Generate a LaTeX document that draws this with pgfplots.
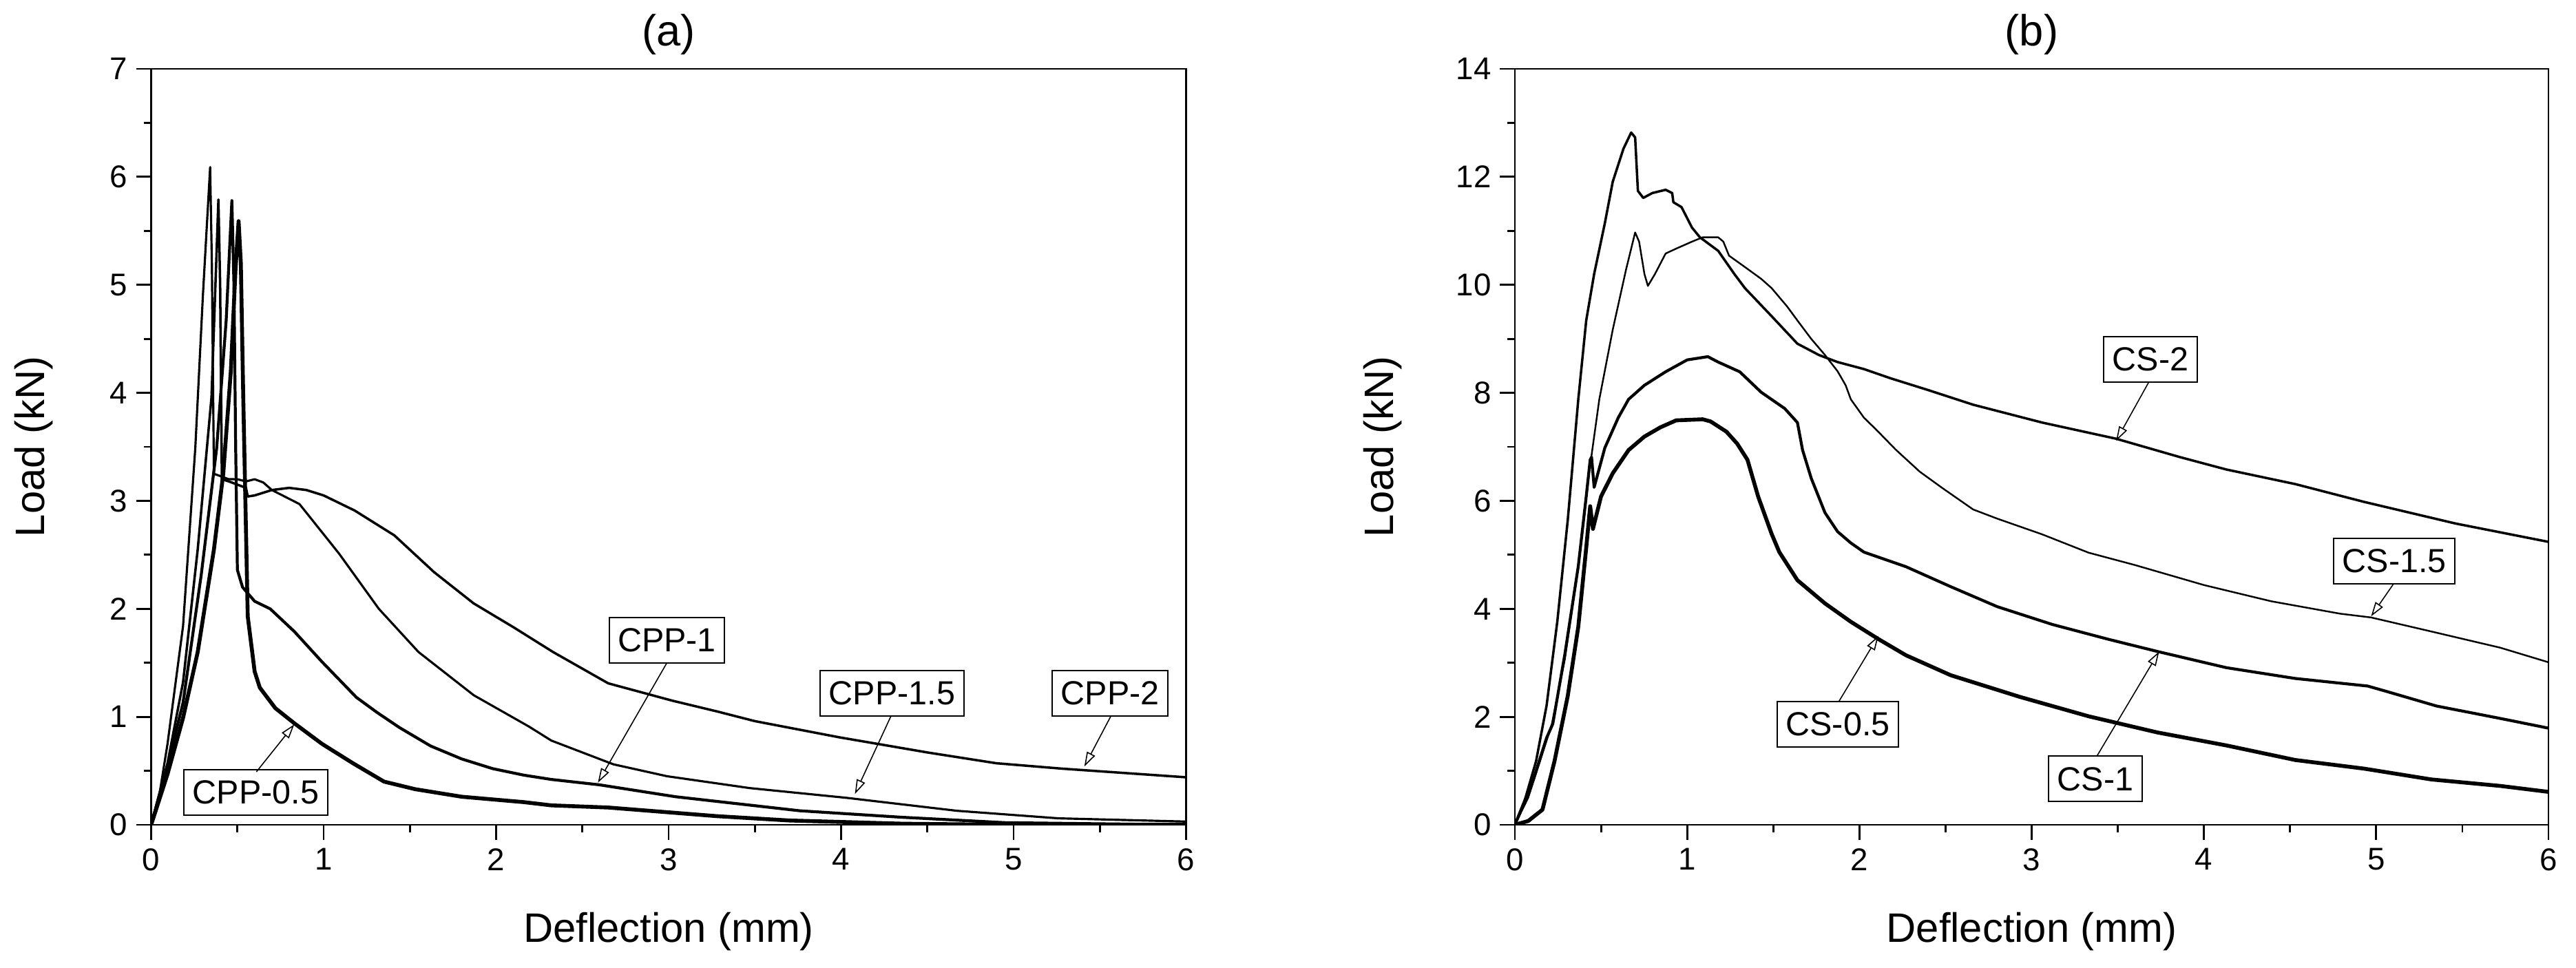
\documentclass[border=0pt]{standalone}
\usepackage{fontspec}
\setmainfont{Liberation Sans}
\usepackage{pgfplots}
\pgfplotsset{compat=1.18}
\usetikzlibrary{arrows.meta}

\pgfplotsset{
  panel/.style={
    scale only axis, height=10.98cm,
    xmin=0, xmax=6, ymin=0,
    xtick={0,...,6},
    axis line style={line width=0.8pt},
    tick align=outside, xtick pos=bottom, ytick pos=left,
    minor x tick num=1, minor y tick num=1,
    major tick length=0.22cm, minor tick length=0.11cm,
    every tick/.style={line width=0.8pt, black},
    ticklabel style={font=\fontsize{13}{15}\selectfont},
    /pgf/number format/assume math mode=true,
    label style={font=\fontsize{17}{20}\selectfont},
    every axis title/.style={font=\fontsize{18}{21}\selectfont, at={(axis description cs:0.5,1.045)}, anchor=center},
    xlabel={Deflection (mm)},
    xlabel style={at={(axis description cs:0.5,-0.1412)}, anchor=center},
    ylabel={Load (kN)},
    every axis plot/.append style={black, no markers, line join=round},
  },
}
\tikzset{
  note/.style={draw, line width=0.55pt, fill=white, inner xsep=0.125cm, inner ysep=0pt,
    minimum height=0.66cm, font=\fontsize{13.8}{16}\selectfont},
  pointer/.style={line width=0.45pt, -{Triangle[open, length=0.21cm, width=0.13cm]}},
}

\begin{document}
\begin{tikzpicture}
\useasboundingbox (0,0) rectangle (37.41,14.05);

% (a) CPP series
\begin{axis}[panel, at={(2.195cm,2.07cm)}, anchor=south west, width=15.03cm,
  ymax=7, ytick={0,...,7}, title={(a)},
  ylabel style={at={(axis description cs:-0.1131,0.5)}, anchor=center}]
\addplot[line width=1.6pt] coordinates {(0,0) (0.095,0.47) (0.185,0.99) (0.27,1.6) (0.364,2.55) (0.418,3.25) (0.462,4.2) (0.489,5.14) (0.507,5.59) (0.52,5.2) (0.534,3.96) (0.56,1.93) (0.6,1.42) (0.63,1.27) (0.72,1.08) (0.83,0.94) (0.99,0.75) (1.17,0.57) (1.35,0.4) (1.53,0.33) (1.8,0.26) (2.16,0.21) (2.32,0.18) (2.65,0.16) (3.28,0.08) (3.7,0.04) (4.36,0.01) (5,0.0) (6,0)};
\addplot[line width=1.2pt] coordinates {(0,0) (0.095,0.55) (0.185,1.13) (0.29,2.31) (0.38,3.49) (0.435,4.67) (0.468,5.78) (0.48,5.0) (0.49,3.5) (0.5,2.36) (0.53,2.2) (0.6,2.07) (0.69,2.0) (0.83,1.79) (0.99,1.51) (1.19,1.18) (1.31,1.04) (1.44,0.9) (1.62,0.73) (1.8,0.61) (1.98,0.52) (2.16,0.46) (2.32,0.42) (2.6,0.37) (3.04,0.26) (3.76,0.13) (4.35,0.07) (4.95,0.02) (6,0.0)};
\addplot[line width=0.9pt] coordinates {(0,0) (0.05,0.3) (0.095,0.75) (0.185,1.84) (0.256,3.49) (0.3,4.9) (0.342,6.09) (0.352,5.2) (0.364,3.25) (0.4,3.23) (0.45,3.2) (0.5,3.2) (0.55,3.18) (0.6,3.2) (0.65,3.17) (0.7,3.1) (0.86,2.97) (1.09,2.51) (1.32,2.0) (1.55,1.6) (1.87,1.2) (2.19,0.91) (2.32,0.78) (2.68,0.56) (2.99,0.45) (3.47,0.34) (4.03,0.25) (4.67,0.13) (5.26,0.06) (6,0.03)};
\addplot[line width=1.0pt] coordinates {(0,0) (0.095,0.57) (0.185,1.32) (0.27,2.55) (0.35,3.96) (0.39,5.79) (0.4,5.0) (0.41,3.2) (0.45,3.18) (0.5,3.15) (0.55,3.12) (0.56,3.04) (0.6,3.05) (0.7,3.1) (0.8,3.12) (0.9,3.1) (1.0,3.05) (1.18,2.91) (1.41,2.68) (1.64,2.34) (1.87,2.05) (2.1,1.83) (2.33,1.6) (2.65,1.31) (3.02,1.15) (3.28,1.05) (3.5,0.96) (3.99,0.81) (4.5,0.67) (4.9,0.57) (5.28,0.52) (6,0.44)};
\node[note] at (axis cs:0.607,0.30) {CPP-0.5};
\draw[pointer] (axis cs:0.61,0.49) -- (axis cs:0.83,0.93);
\node[note] at (axis cs:2.99,1.71) {CPP-1};
\draw[pointer] (axis cs:2.99,1.50) -- (axis cs:2.59,0.39);
\node[note] at (axis cs:4.295,1.22) {CPP-1.5};
\draw[pointer] (axis cs:4.29,1.01) -- (axis cs:4.08,0.285);
\node[note] at (axis cs:5.56,1.22) {CPP-2};
\draw[pointer] (axis cs:5.565,1.01) -- (axis cs:5.41,0.54);
\end{axis}

% (b) CS series
\begin{axis}[panel, at={(22.0cm,2.07cm)}, anchor=south west, width=15.01cm,
  ymax=14, ytick={0,2,...,14}, title={(b)},
  ylabel style={at={(axis description cs:-0.128,0.5)}, anchor=center}]
\addplot[line width=1.6pt] coordinates {(0,0) (0.077,0.07) (0.16,0.28) (0.23,1.18) (0.307,2.39) (0.368,3.67) (0.414,5.13) (0.437,5.9) (0.453,5.48) (0.5,6.08) (0.568,6.51) (0.66,6.94) (0.752,7.19) (0.844,7.36) (0.936,7.49) (1.09,7.51) (1.136,7.47) (1.228,7.28) (1.29,7.06) (1.35,6.76) (1.412,6.08) (1.49,5.39) (1.535,5.05) (1.64,4.53) (1.8,4.1) (1.95,3.76) (2.11,3.44) (2.27,3.14) (2.53,2.77) (2.93,2.37) (3.33,2.01) (3.73,1.71) (4.13,1.47) (4.53,1.2) (4.93,1.04) (5.32,0.84) (5.72,0.72) (6.0,0.61)};
\addplot[line width=1.2pt] coordinates {(0,0) (0.107,0.84) (0.184,1.61) (0.22,1.87) (0.29,3.16) (0.368,4.79) (0.414,6.08) (0.437,6.76) (0.445,6.81) (0.46,6.25) (0.522,6.98) (0.6,7.54) (0.66,7.88) (0.752,8.14) (0.875,8.39) (1.0,8.61) (1.12,8.67) (1.18,8.57) (1.305,8.39) (1.43,8.01) (1.566,7.71) (1.64,7.45) (1.67,6.94) (1.72,6.42) (1.8,5.78) (1.873,5.43) (1.95,5.22) (2.026,5.05) (2.27,4.78) (2.53,4.41) (2.8,4.04) (3.12,3.71) (3.44,3.44) (3.73,3.21) (4.13,2.91) (4.53,2.71) (4.95,2.57) (5.06,2.47) (5.35,2.2) (5.72,1.97) (6.0,1.79)};
\addplot[line width=0.7pt] coordinates {(0,0) (0.077,0.5) (0.138,1.1) (0.215,1.87) (0.29,3.07) (0.368,4.79) (0.43,6.5) (0.49,7.88) (0.568,9.17) (0.645,10.28) (0.698,10.97) (0.721,10.8) (0.752,10.2) (0.772,9.98) (0.813,10.2) (0.875,10.58) (0.936,10.67) (1.028,10.8) (1.09,10.88) (1.18,10.88) (1.21,10.8) (1.243,10.54) (1.335,10.33) (1.43,10.11) (1.49,9.94) (1.58,9.6) (1.64,9.34) (1.72,9.0) (1.8,8.7) (1.873,8.4) (1.92,8.14) (1.95,7.88) (2.026,7.54) (2.1,7.31) (2.21,6.95) (2.35,6.54) (2.48,6.24) (2.66,5.84) (2.8,5.67) (3.06,5.38) (3.33,5.04) (3.6,4.81) (4.0,4.44) (4.39,4.14) (4.79,3.91) (4.97,3.84) (5.32,3.58) (5.72,3.28) (6.0,3.01)};
\addplot[line width=1.0pt] coordinates {(0,0) (0.046,0.33) (0.123,1.18) (0.184,2.21) (0.246,3.76) (0.307,5.65) (0.368,7.88) (0.414,9.34) (0.46,10.2) (0.522,11.14) (0.568,11.91) (0.63,12.52) (0.675,12.82) (0.698,12.73) (0.714,11.74) (0.745,11.61) (0.798,11.7) (0.875,11.76) (0.913,11.7) (0.92,11.53) (0.967,11.44) (1.028,11.06) (1.074,10.88) (1.18,10.63) (1.274,10.2) (1.335,9.94) (1.49,9.42) (1.64,8.91) (1.765,8.7) (1.873,8.57) (2.026,8.44) (2.18,8.27) (2.4,8.05) (2.66,7.78) (3.06,7.45) (3.49,7.15) (3.86,6.81) (4.13,6.58) (4.53,6.31) (4.93,5.98) (5.46,5.58) (6.0,5.24)};
\node[note] at (axis cs:1.875,1.86) {CS-0.5};
\draw[pointer] (axis cs:1.88,2.28) -- (axis cs:2.11,3.5);
\node[note] at (axis cs:3.37,0.85) {CS-1};
\draw[pointer] (axis cs:3.38,1.28) -- (axis cs:3.74,3.21);
\node[note] at (axis cs:5.105,4.88) {CS-1.5};
\draw[pointer] (axis cs:5.1,4.46) -- (axis cs:4.97,3.86);
\node[note] at (axis cs:3.69,8.62) {CS-2};
\draw[pointer] (axis cs:3.68,8.2) -- (axis cs:3.49,7.11);
\end{axis}
\end{tikzpicture}
\end{document}
